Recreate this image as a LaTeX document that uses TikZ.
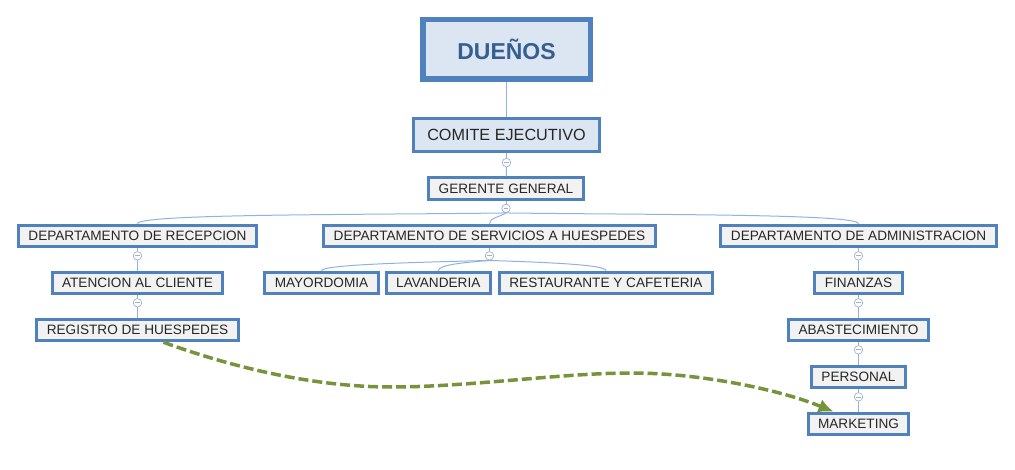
\documentclass[tikz,border=0pt]{standalone}
\usepackage{fontspec}
\setmainfont{Liberation Sans}
\usepackage{tikz}
\usetikzlibrary{shapes,arrows.meta,positioning}
\definecolor{borde}{RGB}{79,129,189}
\definecolor{azulclaro}{RGB}{220,230,242}
\definecolor{grisclaro}{RGB}{242,242,242}
\definecolor{azuloscuro}{RGB}{54,95,145}
\definecolor{celeste}{RGB}{141,179,226}
\definecolor{gris}{RGB}{160,178,200}
\definecolor{verde}{RGB}{119,147,60}
\tikzstyle{caja} = [rectangle, draw=borde, line width=3pt, fill=grisclaro,
inner xsep=10pt, minimum height=21.5pt, text=black!85, font=\fontsize{13.6}{15}\selectfont]
\tikzstyle{jefe} = [caja, fill=azulclaro, line width=5.5pt, minimum width=167.5pt,
minimum height=59.5pt, text=azuloscuro, font=\fontsize{23}{26}\selectfont\bfseries]
\tikzstyle{comite} = [caja, fill=azulclaro, minimum width=186pt, minimum height=33pt,
font=\fontsize{16.2}{18}\selectfont]
\tikzstyle{linea} = [draw=celeste, line width=1pt]
\tikzstyle{boton} = [circle, draw=gris, fill=white, line width=0.7pt, minimum size=8.5pt,
inner sep=0pt, path picture={\draw[gris, line width=0.7pt] ([xshift=-2.2pt]path picture bounding box.center) -- ([xshift=2.2pt]path picture bounding box.center);}]
\tikzstyle{flecha} = [draw=verde, line width=3.5pt, dash pattern=on 10pt off 4pt,
-{Latex[length=15pt,width=14pt]}]

\begin{document}
\begin{tikzpicture}[x=1pt, y=1pt, node distance = 47pt, auto]
	\useasboundingbox (0,0) rectangle (1015,-470);
	\node [jefe] (duenos) at (506.5,-49.5) {DUEÑOS};
	\node [comite] (comite) at (506.5,-135) {COMITE EJECUTIVO};
	\node [caja] (gerente) at (506,-188.5) {GERENTE GENERAL};
	
	
	\node [caja] (recepcion) at (137.5,-236) {DEPARTAMENTO DE RECEPCION};
	\node [caja] (servicios) at (489.5,-236) {DEPARTAMENTO DE SERVICIOS A HUESPEDES};
	\node [caja] (admin) at (858.5,-236) {DEPARTAMENTO DE ADMINISTRACION};
	
	
	\node [caja, below of=recepcion] (atencion) {ATENCION AL CLIENTE};
	\node [caja, below of=atencion] (registro) {REGISTRO DE HUESPEDES};
	
	\node [caja] (mayordomia) at (321.5,-283) {MAYORDOMIA};
	\node [caja, right=5pt of mayordomia] (lavanderia) {LAVANDERIA};
	\node [caja, right=6pt of lavanderia] (restaurante) {RESTAURANTE Y CAFETERIA};
	
	\node [caja, below of=admin] (finanzas) {FINANZAS};
	\node [caja, below of=finanzas] (abastecimiento) {ABASTECIMIENTO};
	\node [caja, below of=abastecimiento] (personal) {PERSONAL};
	\node [caja, below of=personal] (marketing) {MARKETING};
	
	
	\node [boton, below=5pt of comite] (bcomite) {};
	\node [boton, below=3pt of gerente] (bgerente) {};
	\node [boton, below=3pt of recepcion] (brecepcion) {};
	\node [boton, below=3pt of atencion] (batencion) {};
	\node [boton, below=3pt of servicios] (bservicios) {};
	\node [boton, below=3pt of admin] (badmin) {};
	\node [boton, below=3pt of finanzas] (bfinanzas) {};
	\node [boton, below=3pt of abastecimiento] (babastecimiento) {};
	\node [boton, below=3pt of personal] (bpersonal) {};
	
	
	\path [linea] (duenos)--(comite);
	\path [linea] (comite)--(bcomite);
	\path [linea] (bcomite)--(gerente);
	\path [linea] (gerente)--(bgerente);
	
	\path [linea] (bgerente.south) .. controls +(-150,-2) and +(0,10) .. (recepcion.north);
	\path [linea] (bgerente.south) .. controls +(-6,-4) and +(0,6) .. (servicios.north);
	\path [linea] (bgerente.south) .. controls +(150,-2) and +(0,10) .. (admin.north);
	
	\path [linea] (recepcion)--(brecepcion);
	\path [linea] (brecepcion)--(atencion);
	\path [linea] (atencion)--(batencion);
	\path [linea] (batencion)--(registro);
	
	\path [linea] (servicios)--(bservicios);
	\path [linea] (bservicios.south) .. controls +(-80,-2) and +(0,6) .. (mayordomia.north);
	\path [linea] (bservicios.south) .. controls +(-25,-2) and +(0,6) .. (lavanderia.north);
	\path [linea] (bservicios.south) .. controls +(60,-2) and +(0,6) .. (restaurante.north);
	
	\path [linea] (admin)--(badmin);
	\path [linea] (badmin)--(finanzas);
	\path [linea] (finanzas)--(bfinanzas);
	\path [linea] (bfinanzas)--(abastecimiento);
	\path [linea] (abastecimiento)--(babastecimiento);
	\path [linea] (babastecimiento)--(personal);
	\path [linea] (personal)--(bpersonal);
	\path [linea] (bpersonal)--(marketing);
	
	
	\coordinate (valle) at (391,-387);
	\coordinate (cima) at (632,-373);
	\path [flecha] ([xshift=26pt]registro.south) .. controls +(77,-28) and +(-71,0) .. (valle)
	.. controls +(79,0) and +(-72,0) .. (cima)
	.. controls +(68,0) and +(-53,22) .. ([xshift=-25pt]marketing.north);
\end{tikzpicture}
\end{document}
